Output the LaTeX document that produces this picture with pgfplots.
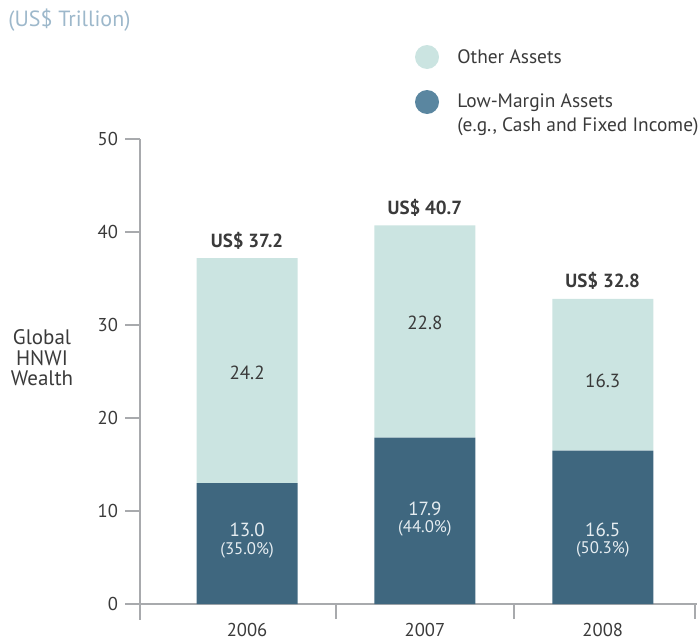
\documentclass[border=0pt]{standalone}
\usepackage{pgfplots}
\pgfplotsset{compat=1.18}
\usepackage{fontspec}
\setmainfont{PT Sans}
\definecolor{lightbar}{HTML}{CBE4E1}
\definecolor{darkbar}{HTML}{3F677F}
\definecolor{legdark}{HTML}{5A86A0}
\definecolor{titlecol}{HTML}{9DB8CB}
\definecolor{axgray}{HTML}{A8AAAD}
\definecolor{txt}{HTML}{3A3A3A}
\definecolor{intxt}{HTML}{E6EDF1}
\begin{document}
\begin{tikzpicture}
\begin{axis}[
  at={(70pt,17.5pt)}, anchor=south west,
  scale only axis, width=278.5pt, height=232.5pt,
  xmin=-0.602, xmax=2.53, ymin=0, ymax=50,
  axis lines=left, axis line style={-, draw=axgray, line width=1pt},
  ybar stacked, bar width=50.5pt,
  xtick={0,1,2}, xticklabels={2006,2007,2008},
  minor xtick={0.5,1.5,2.52},
  major x tick style={draw=none},
  minor x tick style={draw=axgray, line width=1pt},
  minor tick length=7.5pt,
  ytick={0,10,20,30,40,50},
  y tick style={draw=axgray, line width=1pt},
  major tick length=7.5pt,
  tick align=outside,
  ticklabel style={font=\fontsize{9.3}{10}\selectfont, text=txt},
  xticklabel style={yshift=1.5pt},
  /pgf/number format/assume math mode=true,
  clip=false,
  after end axis/.code={
    \draw[axgray, line width=1pt] (axis cs:-0.602,0) -- ([yshift=-8pt]axis cs:-0.602,0);
    \node[font=\fontsize{9.5}{10}\selectfont\bfseries, text=txt] at (axis cs:0,39.1) {US\$ 37.2};
    \node[font=\fontsize{9.5}{10}\selectfont\bfseries, text=txt] at (axis cs:1,42.6) {US\$ 40.7};
    \node[font=\fontsize{9.5}{10}\selectfont\bfseries, text=txt] at (axis cs:2,34.8) {US\$ 32.8};
    \node[font=\fontsize{9.5}{10}\selectfont, text=txt] at (axis cs:0,24.9) {24.2};
    \node[font=\fontsize{9.5}{10}\selectfont, text=txt] at (axis cs:1,30.2) {22.8};
    \node[font=\fontsize{9.5}{10}\selectfont, text=txt] at (axis cs:2,24.0) {16.3};
    \node[font=\fontsize{9.5}{10}\selectfont, text=intxt] at (axis cs:0,8.0) {13.0};
    \node[font=\fontsize{8.4}{9}\selectfont, text=intxt] at (axis cs:0,5.8) {(35.0\%)};
    \node[font=\fontsize{9.5}{10}\selectfont, text=intxt] at (axis cs:1,10.2) {17.9};
    \node[font=\fontsize{8.4}{9}\selectfont, text=intxt] at (axis cs:1,8.1) {(44.0\%)};
    \node[font=\fontsize{9.5}{10}\selectfont, text=intxt] at (axis cs:2,8.0) {16.5};
    \node[font=\fontsize{8.4}{9}\selectfont, text=intxt] at (axis cs:2,5.9) {(50.3\%)};
  },
]
\addplot[fill=darkbar, draw=none] coordinates {(0,13.0) (1,17.9) (2,16.5)};
\addplot[fill=lightbar, draw=none] coordinates {(0,24.2) (1,22.8) (2,16.3)};
\end{axis}
% y label
\node[align=center, font=\fontsize{10.5}{10.2}\selectfont, text=txt] at (21pt,140.5pt) {Global\\HNWI\\Wealth};
% title
\node[anchor=west, font=\fontsize{11}{12}\selectfont, text=titlecol, inner sep=0pt] at (4pt,309.5pt) {(US\$ Trillion)};
% legend
\fill[lightbar] (213.5pt,291pt) circle (6pt);
\fill[legdark] (213.5pt,268.5pt) circle (6pt);
\node[anchor=west, inner sep=0pt, font=\fontsize{9.7}{10}\selectfont, text=txt] at (228.5pt,291pt) {Other Assets};
\node[anchor=west, inner sep=0pt, font=\fontsize{9.7}{10}\selectfont, text=txt] at (228.5pt,268pt) {Low-Margin Assets};
\node[anchor=west, inner sep=0pt, font=\fontsize{9.7}{10}\selectfont, text=txt] at (228.5pt,256pt) {(e.g., Cash and Fixed Income)};
\pgfresetboundingbox
\path (0,0) rectangle (349.5pt,319.5pt);
\end{tikzpicture}
\end{document}
